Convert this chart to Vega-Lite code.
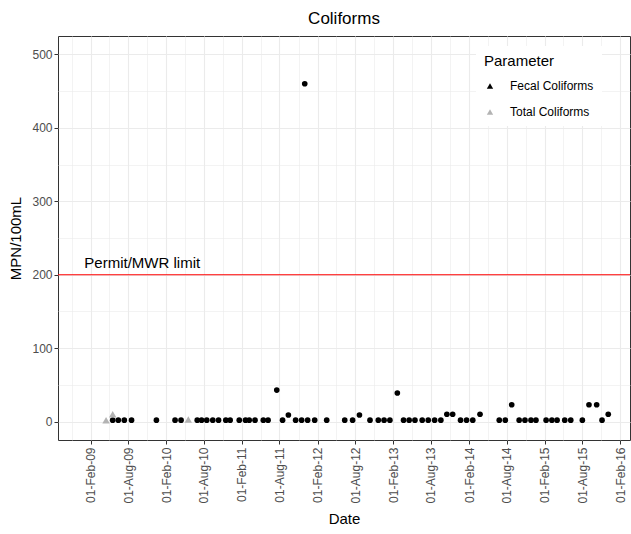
{
  "$schema": "https://vega.github.io/schema/vega-lite/v6.json",
  "autosize": "none",
  "width": 572,
  "height": 404,
  "padding": {"left": 58, "top": 36, "right": 1, "bottom": 94},
  "background": "white",
  "config": {
    "font": "Liberation Sans",
    "view": {"stroke": "#333333", "strokeWidth": 1},
    "axis": {"domain": false, "labelColor": "#4d4d4d", "labelFontSize": 12, "titleFontSize": 15, "titleFontWeight": "normal", "titleColor": "black", "tickColor": "#333333", "tickSize": 4, "gridColor": "#ebebeb"}
  },
  "title": {"text": "Coliforms", "fontSize": 17, "fontWeight": "normal", "color": "black", "anchor": "middle", "offset": 8},
  "data": {"values": [
    {"Date": "2009-05-18", "Value": 2, "Parameter": "Fecal Coliforms"},
    {"Date": "2009-06-14", "Value": 2, "Parameter": "Fecal Coliforms"},
    {"Date": "2009-07-13", "Value": 2, "Parameter": "Fecal Coliforms"},
    {"Date": "2009-08-17", "Value": 2, "Parameter": "Fecal Coliforms"},
    {"Date": "2009-12-15", "Value": 2, "Parameter": "Fecal Coliforms"},
    {"Date": "2010-03-15", "Value": 2, "Parameter": "Fecal Coliforms"},
    {"Date": "2010-04-13", "Value": 2, "Parameter": "Fecal Coliforms"},
    {"Date": "2010-06-30", "Value": 2, "Parameter": "Fecal Coliforms"},
    {"Date": "2010-07-21", "Value": 2, "Parameter": "Fecal Coliforms"},
    {"Date": "2010-08-15", "Value": 2, "Parameter": "Fecal Coliforms"},
    {"Date": "2010-09-13", "Value": 2, "Parameter": "Fecal Coliforms"},
    {"Date": "2010-10-11", "Value": 2, "Parameter": "Fecal Coliforms"},
    {"Date": "2010-11-15", "Value": 2, "Parameter": "Fecal Coliforms"},
    {"Date": "2010-12-06", "Value": 2, "Parameter": "Fecal Coliforms"},
    {"Date": "2011-01-19", "Value": 2, "Parameter": "Fecal Coliforms"},
    {"Date": "2011-02-18", "Value": 2, "Parameter": "Fecal Coliforms"},
    {"Date": "2011-03-08", "Value": 2, "Parameter": "Fecal Coliforms"},
    {"Date": "2011-04-05", "Value": 2, "Parameter": "Fecal Coliforms"},
    {"Date": "2011-05-15", "Value": 2, "Parameter": "Fecal Coliforms"},
    {"Date": "2011-06-07", "Value": 2, "Parameter": "Fecal Coliforms"},
    {"Date": "2011-07-19", "Value": 43, "Parameter": "Fecal Coliforms"},
    {"Date": "2011-08-16", "Value": 2, "Parameter": "Fecal Coliforms"},
    {"Date": "2011-09-13", "Value": 9, "Parameter": "Fecal Coliforms"},
    {"Date": "2011-10-18", "Value": 2, "Parameter": "Fecal Coliforms"},
    {"Date": "2011-11-16", "Value": 2, "Parameter": "Fecal Coliforms"},
    {"Date": "2011-12-01", "Value": 460, "Parameter": "Fecal Coliforms"},
    {"Date": "2011-12-15", "Value": 2, "Parameter": "Fecal Coliforms"},
    {"Date": "2012-01-18", "Value": 2, "Parameter": "Fecal Coliforms"},
    {"Date": "2012-03-16", "Value": 2, "Parameter": "Fecal Coliforms"},
    {"Date": "2012-06-11", "Value": 2, "Parameter": "Fecal Coliforms"},
    {"Date": "2012-07-19", "Value": 2, "Parameter": "Fecal Coliforms"},
    {"Date": "2012-08-21", "Value": 9, "Parameter": "Fecal Coliforms"},
    {"Date": "2012-10-11", "Value": 2, "Parameter": "Fecal Coliforms"},
    {"Date": "2012-11-20", "Value": 2, "Parameter": "Fecal Coliforms"},
    {"Date": "2012-12-18", "Value": 2, "Parameter": "Fecal Coliforms"},
    {"Date": "2013-01-15", "Value": 2, "Parameter": "Fecal Coliforms"},
    {"Date": "2013-02-20", "Value": 39, "Parameter": "Fecal Coliforms"},
    {"Date": "2013-03-22", "Value": 2, "Parameter": "Fecal Coliforms"},
    {"Date": "2013-04-18", "Value": 2, "Parameter": "Fecal Coliforms"},
    {"Date": "2013-05-16", "Value": 2, "Parameter": "Fecal Coliforms"},
    {"Date": "2013-06-20", "Value": 2, "Parameter": "Fecal Coliforms"},
    {"Date": "2013-07-19", "Value": 2, "Parameter": "Fecal Coliforms"},
    {"Date": "2013-08-19", "Value": 2, "Parameter": "Fecal Coliforms"},
    {"Date": "2013-09-18", "Value": 2, "Parameter": "Fecal Coliforms"},
    {"Date": "2013-10-17", "Value": 10, "Parameter": "Fecal Coliforms"},
    {"Date": "2013-11-14", "Value": 10, "Parameter": "Fecal Coliforms"},
    {"Date": "2013-12-22", "Value": 2, "Parameter": "Fecal Coliforms"},
    {"Date": "2014-01-20", "Value": 2, "Parameter": "Fecal Coliforms"},
    {"Date": "2014-02-19", "Value": 2, "Parameter": "Fecal Coliforms"},
    {"Date": "2014-03-26", "Value": 10, "Parameter": "Fecal Coliforms"},
    {"Date": "2014-06-27", "Value": 2, "Parameter": "Fecal Coliforms"},
    {"Date": "2014-07-26", "Value": 2, "Parameter": "Fecal Coliforms"},
    {"Date": "2014-08-26", "Value": 23, "Parameter": "Fecal Coliforms"},
    {"Date": "2014-10-01", "Value": 2, "Parameter": "Fecal Coliforms"},
    {"Date": "2014-10-29", "Value": 2, "Parameter": "Fecal Coliforms"},
    {"Date": "2014-11-27", "Value": 2, "Parameter": "Fecal Coliforms"},
    {"Date": "2014-12-21", "Value": 2, "Parameter": "Fecal Coliforms"},
    {"Date": "2015-02-08", "Value": 2, "Parameter": "Fecal Coliforms"},
    {"Date": "2015-03-08", "Value": 2, "Parameter": "Fecal Coliforms"},
    {"Date": "2015-04-02", "Value": 2, "Parameter": "Fecal Coliforms"},
    {"Date": "2015-05-09", "Value": 2, "Parameter": "Fecal Coliforms"},
    {"Date": "2015-06-07", "Value": 2, "Parameter": "Fecal Coliforms"},
    {"Date": "2015-08-02", "Value": 2, "Parameter": "Fecal Coliforms"},
    {"Date": "2015-09-03", "Value": 23, "Parameter": "Fecal Coliforms"},
    {"Date": "2015-10-10", "Value": 23, "Parameter": "Fecal Coliforms"},
    {"Date": "2015-11-05", "Value": 2, "Parameter": "Fecal Coliforms"},
    {"Date": "2015-12-05", "Value": 10, "Parameter": "Fecal Coliforms"},
    {"Date": "2009-04-16", "Value": 2, "Parameter": "Total Coliforms"},
    {"Date": "2009-05-18", "Value": 10, "Parameter": "Total Coliforms"},
    {"Date": "2010-05-18", "Value": 3, "Parameter": "Total Coliforms"}
  ]},
  "encoding": {
    "x": {
      "field": "Date", "type": "temporal", "title": "Date",
      "scale": {"domain": [{"year": 2008, "month": 8, "date": 27}, {"year": 2016, "month": 3, "date": 19}]},
      "axis": {
        "values": [
          {"year": 2008, "month": 11, "date": 1},
          {"year": 2009, "month": 2, "date": 1}, {"year": 2009, "month": 5, "date": 2}, {"year": 2009, "month": 8, "date": 1}, {"year": 2009, "month": 11, "date": 1},
          {"year": 2010, "month": 2, "date": 1}, {"year": 2010, "month": 5, "date": 2}, {"year": 2010, "month": 8, "date": 1}, {"year": 2010, "month": 11, "date": 1},
          {"year": 2011, "month": 2, "date": 1}, {"year": 2011, "month": 5, "date": 2}, {"year": 2011, "month": 8, "date": 1}, {"year": 2011, "month": 11, "date": 1},
          {"year": 2012, "month": 2, "date": 1}, {"year": 2012, "month": 5, "date": 2}, {"year": 2012, "month": 8, "date": 1}, {"year": 2012, "month": 11, "date": 1},
          {"year": 2013, "month": 2, "date": 1}, {"year": 2013, "month": 5, "date": 2}, {"year": 2013, "month": 8, "date": 1}, {"year": 2013, "month": 11, "date": 1},
          {"year": 2014, "month": 2, "date": 1}, {"year": 2014, "month": 5, "date": 2}, {"year": 2014, "month": 8, "date": 1}, {"year": 2014, "month": 11, "date": 1},
          {"year": 2015, "month": 2, "date": 1}, {"year": 2015, "month": 5, "date": 2}, {"year": 2015, "month": 8, "date": 1}, {"year": 2015, "month": 11, "date": 1},
          {"year": 2016, "month": 2, "date": 1}
        ],
        "labelExpr": "(month(datum.value) == 1 || month(datum.value) == 7) ? timeFormat(datum.value, '%d-%b-%y') : ''",
        "labelAngle": -90,
        "labelPadding": 3,
        "titlePadding": 8,
        "tickOpacity": {"condition": {"test": "month(datum.value) == 4 || month(datum.value) == 10", "value": 0}, "value": 1},
        "gridWidth": {"condition": {"test": "month(datum.value) == 4 || month(datum.value) == 10", "value": 0.6}, "value": 1.1}
      }
    },
    "y": {
      "field": "Value", "type": "quantitative", "title": "MPN/100mL",
      "scale": {"domain": [-25, 525], "nice": false, "zero": false},
      "axis": {
        "values": [0, 50, 100, 150, 200, 250, 300, 350, 400, 450, 500],
        "labelExpr": "datum.value % 100 == 0 ? datum.label : ''",
        "titlePadding": 8,
        "tickOpacity": {"condition": {"test": "datum.value % 100 != 0", "value": 0}, "value": 1},
        "gridWidth": {"condition": {"test": "datum.value % 100 != 0", "value": 0.6}, "value": 1.1}
      }
    }
  },
  "layer": [
    {
      "data": {"values": [{"Value": 200}]},
      "mark": {"type": "rule", "color": "#ff0000", "strokeWidth": 1.1},
      "encoding": {"y": {"field": "Value", "type": "quantitative"}, "x": null}
    },
    {
      "data": {"values": [{"Date": "2009-01-01", "Value": 200, "label": "Permit/MWR limit"}]},
      "mark": {"type": "text", "align": "left", "baseline": "bottom", "dy": -4, "fontSize": 15, "color": "black"},
      "encoding": {
        "text": {"field": "label", "type": "nominal"}
      }
    },
    {
      "transform": [{"filter": "datum.Parameter == 'Fecal Coliforms'"}],
      "mark": {"type": "point", "filled": true, "opacity": 1, "size": 32, "shape": "circle"},
      "encoding": {
        "color": {
          "field": "Parameter", "type": "nominal",
          "scale": {"domain": ["Fecal Coliforms", "Total Coliforms"], "range": ["#000000", "#b3b3b3"]},
          "legend": {
            "orient": "none", "legendX": 418, "legendY": 10,
            "title": "Parameter", "titleFontSize": 15, "titleFontWeight": "normal", "titleColor": "black",
            "labelFontSize": 12, "labelColor": "black", "symbolType": "triangle-up", "symbolSize": 40,
            "fillColor": "white", "padding": 8, "rowPadding": 14, "titlePadding": 11, "labelOffset": 14
          }
        }
      }
    },
    {
      "transform": [{"filter": "datum.Parameter == 'Total Coliforms'"}],
      "mark": {"type": "point", "filled": true, "opacity": 1, "size": 55, "shape": "triangle-up"},
      "encoding": {
        "color": {"field": "Parameter", "type": "nominal"}
      }
    }
  ]
}
